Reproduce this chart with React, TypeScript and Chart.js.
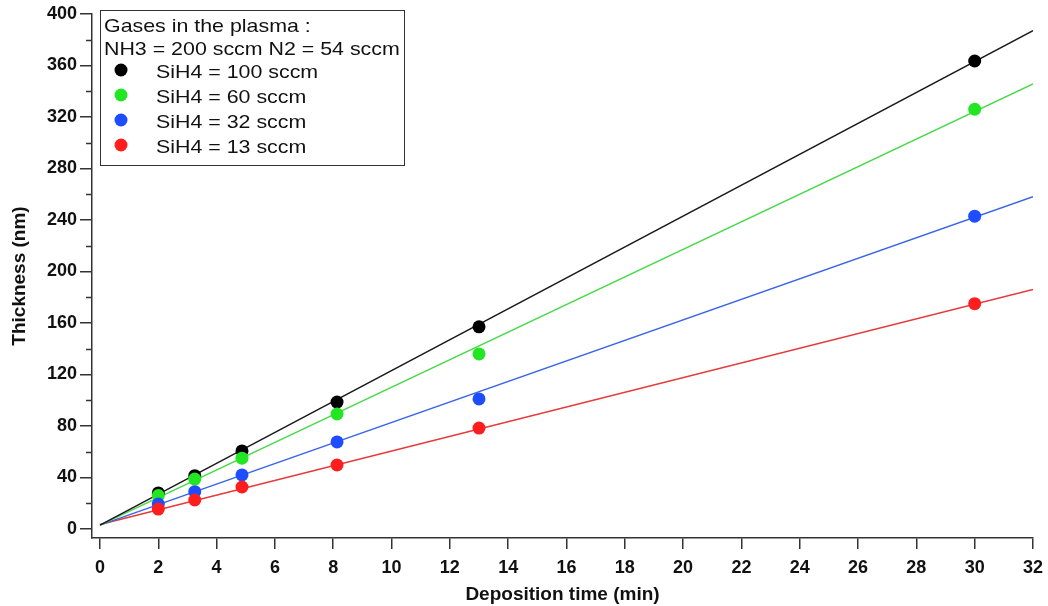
import React, { useEffect, useRef } from "react";
import { Chart, registerables } from "chart.js";

Chart.register(...registerables);

const times = [2, 3.25, 4.87, 8.13, 13, 30];
const sih4_100 = [28, 41.4, 60.6, 98.6, 157, 363.5];
const sih4_60 = [26, 38.8, 55, 89.3, 136, 326];
const sih4_32 = [19.4, 29, 42, 67.6, 101, 243];
const sih4_13 = [15.5, 22.5, 32.6, 49.7, 78.4, 175];

const fitX = [0, 32];
const fit_100 = [3, 387];
const fit_60 = [3, 345.6];
const fit_32 = [3, 258];
const fit_13 = [3.5, 186];

const xTicks = [0, 2, 4, 6, 8, 10, 12, 14, 16, 18, 20, 22, 24, 26, 28, 30, 32];
const yTicks = [0, 40, 80, 120, 160, 200, 240, 280, 320, 360, 400];
const yMinorTicks = [20, 60, 100, 140, 180, 220, 260, 300, 340, 380];

const legendTitle = ["Gases in the plasma :", "NH3 = 200 sccm N2 = 54 sccm"];
const seriesLabels = ["SiH4 = 100 sccm", "SiH4 = 60 sccm", "SiH4 = 32 sccm", "SiH4 = 13 sccm"];
const pointColors = ["#000000", "#22e622", "#1e4cff", "#ff1e1e"];
const lineColors = ["#1a1a1a", "#4ad84a", "#3a66e6", "#e63a3a"];

const FONT = '"Liberation Sans", Arial, sans-serif';

export default function App() {
  const ref = useRef<HTMLCanvasElement>(null);
  useEffect(() => {
    document.body.style.margin = "0";
    const series = [sih4_100, sih4_60, sih4_32, sih4_13];
    const fits = [fit_100, fit_60, fit_32, fit_13];
    const datasets: any[] = [];
    series.forEach((s, i) => {
      datasets.push({
        label: seriesLabels[i],
        data: times.map((t, j) => ({ x: t, y: s[j] })),
        backgroundColor: pointColors[i],
        borderColor: pointColors[i],
        pointRadius: 6.5,
        pointBorderWidth: 0,
        showLine: false,
        order: 4 - i,
      });
    });
    fits.forEach((f, i) => {
      datasets.push({
        label: "fit " + seriesLabels[i],
        data: fitX.map((x, j) => ({ x, y: f[j] })),
        borderColor: lineColors[i],
        borderWidth: 1.5,
        pointRadius: 0,
        showLine: true,
        order: 10,
      });
    });

    const drawText = (ctx: any, text: string, x: number, y: number) => {
      ctx.save();
      ctx.translate(x, y);
      ctx.scale(1.125, 1);
      ctx.fillText(text, 0, 0);
      ctx.restore();
    };

    const overlay = {
      id: "overlay",
      afterDraw(chart: any) {
        const ctx = chart.ctx;
        const ys = chart.scales.y;
        const left = chart.chartArea.left;
        ctx.save();
        ctx.strokeStyle = "#333";
        ctx.lineWidth = 1.5;
        yMinorTicks.forEach((v) => {
          const p = Math.round(ys.getPixelForValue(v)) + 0.5;
          ctx.beginPath();
          ctx.moveTo(left - 6, p);
          ctx.lineTo(left, p);
          ctx.stroke();
        });
        // legend box
        ctx.lineWidth = 1;
        ctx.strokeStyle = "#333";
        ctx.fillStyle = "#fff";
        ctx.fillRect(100.5, 10.5, 304, 155);
        ctx.strokeRect(100.5, 10.5, 304, 155);
        ctx.fillStyle = "#111";
        ctx.font = "19px " + FONT;
        ctx.textBaseline = "middle";
        ctx.textAlign = "left";
        drawText(ctx, legendTitle[0], 104, 27);
        drawText(ctx, legendTitle[1], 104, 50);
        seriesLabels.forEach((l, i) => {
          const y = 72 + i * 25;
          ctx.fillStyle = pointColors[i];
          ctx.beginPath();
          ctx.arc(121, y - 2, 6.5, 0, Math.PI * 2);
          ctx.fill();
          ctx.fillStyle = "#111";
          drawText(ctx, l, 156, y + 1);
        });
        ctx.restore();
      },
    };

    const chart = new Chart(ref.current!, {
      type: "scatter",
      data: { datasets },
      plugins: [overlay],
      options: {
        animation: false,
        responsive: false,
        maintainAspectRatio: false,
        layout: { padding: { top: 14, right: 15, left: 0, bottom: 0 } },
        plugins: { legend: { display: false }, tooltip: { enabled: false } },
        scales: {
          x: {
            type: "linear",
            min: -0.274,
            max: 32,
            afterBuildTicks: (s: any) => {
              s.ticks = xTicks.map((v) => ({ value: v }));
            },
            afterFit: (s: any) => {
              s.height = 68;
              s.paddingLeft = 0;
              s.paddingRight = 0;
            },
            ticks: {
              color: "#111",
              font: { family: FONT, size: 18, weight: "bold" },
              padding: 8,
              maxRotation: 0,
              autoSkip: false,
            },
            grid: { drawOnChartArea: false, drawTicks: true, tickLength: 11, color: "#333", lineWidth: 1.5 },
            border: { display: true, color: "#333", width: 1.5 },
            title: {
              display: true,
              text: "Deposition time (min)",
              color: "#111",
              font: { family: FONT, size: 19, weight: "bold" },
              padding: { top: 1, bottom: 0 },
            },
          },
          y: {
            type: "linear",
            min: -7,
            max: 400,
            afterBuildTicks: (s: any) => {
              s.ticks = yTicks.map((v) => ({ value: v }));
            },
            afterFit: (s: any) => {
              s.width = 92;
              s.paddingTop = 0;
              s.paddingBottom = 0;
            },
            ticks: {
              color: "#111",
              font: { family: FONT, size: 18, weight: "bold" },
              padding: 3,
              autoSkip: false,
            },
            grid: { drawOnChartArea: false, drawTicks: true, tickLength: 12, color: "#333", lineWidth: 1.5 },
            border: { display: true, color: "#333", width: 1.5 },
            title: {
              display: true,
              text: "Thickness (nm)",
              color: "#111",
              font: { family: FONT, size: 19, weight: "bold" },
              padding: { top: 8, bottom: 0 },
            },
          },
        },
      },
    } as any);
    return () => chart.destroy();
  }, []);
  return (
    <div style={{ width: 1048, height: 606, background: "#fff" }}>
      <canvas ref={ref} width={1048} height={606} style={{ display: "block" }} />
    </div>
  );
}
